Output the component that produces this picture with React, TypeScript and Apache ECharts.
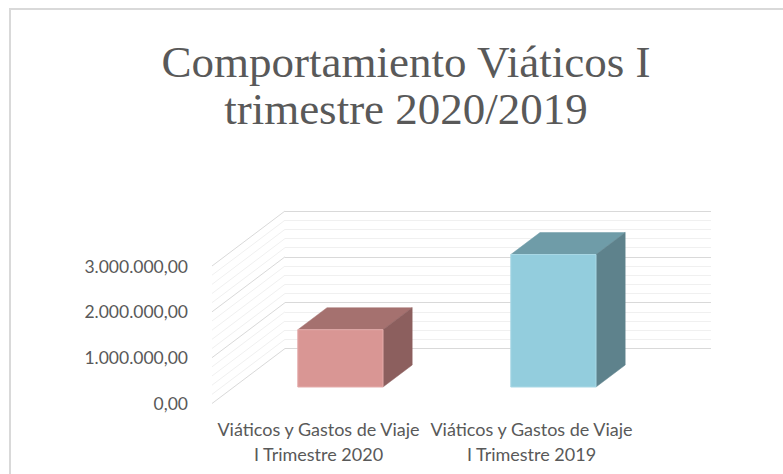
import React, { useEffect, useRef } from "react";
import * as echarts from "echarts";

const categories = [
  "Viáticos y Gastos de Viaje\nI Trimestre 2020",
  "Viáticos y Gastos de Viaje\nI Trimestre 2019",
];
const values = [1250000, 2890000];
const barColors = [
  { front: "#D99694", top: "#A5716F", side: "#8C5F5E", edge: "#E4ACAB" },
  { front: "#93CDDD", top: "#6F9CA8", side: "#5E828C", edge: "#A9D8E5" },
];
const titleText = "Comportamiento Viáticos I\ntrimestre 2020/2019";
const Y_MIN = 0;
const Y_MAX = 3000000;
const Y_INTERVAL = 1000000;
const MINOR_SPLITS = 5;

// side-wall gridline values follow the axis ticks
const wallValues: number[] = [];
for (let v = Y_MIN; v <= Y_MAX; v += Y_INTERVAL / MINOR_SPLITS) wallValues.push(v);

const DX = 73;
const DY = 55;
const BAR_D0 = 0.3;
const BAR_D1 = 0.7;
const BAR_W = 0.4;

const fmt = (v: number) => {
  const parts = v.toFixed(2).split(".");
  const intPart = parts[0].replace(/\B(?=(\d{3})+(?!\d))/g, ".");
  return intPart + "," + parts[1];
};

export default function App() {
  const ref = useRef<HTMLDivElement>(null);
  useEffect(() => {
    if (!ref.current) return;
    const chart = echarts.init(ref.current, null, { renderer: "svg" });
    const textColor = "#595959";
    chart.setOption({
      animation: false,
      backgroundColor: "#ffffff",
      title: {
        text: titleText,
        left: 401,
        top: 33,
        textAlign: "center",
        textStyle: {
          fontFamily: "Liberation Serif",
          fontWeight: "normal",
          fontSize: 45,
          lineHeight: 47,
          color: textColor,
        },
      },
      graphic: [
        {
          type: "rect",
          shape: { x: 10, y: 9, width: 900, height: 600 },
          style: { fill: "none", stroke: "#D9D9D9", lineWidth: 2 },
          silent: true,
          z: 0,
        },
      ],
      grid: [
        { left: 212, right: 145, top: 266, bottom: 70.5 },
        { left: 212 + DX, right: 145 - DX, top: 266 - DY, bottom: 70.5 + DY },
      ],
      xAxis: [
        {
          type: "category",
          gridIndex: 0,
          data: categories,
          axisLine: { show: false },
          axisTick: { show: false },
          axisLabel: {
            color: textColor,
            fontFamily: "Lato",
            fontSize: 18,
            lineHeight: 25,
            margin: 13,
            interval: 0,
          },
        },
        {
          type: "category",
          gridIndex: 1,
          data: categories,
          show: false,
        },
      ],
      yAxis: [
        {
          type: "value",
          gridIndex: 0,
          min: Y_MIN,
          max: Y_MAX,
          interval: Y_INTERVAL,
          axisLine: { show: false },
          axisTick: { show: false },
          splitLine: { show: false },
          axisLabel: {
            color: textColor,
            fontFamily: "Lato",
            fontSize: 17.5,
            margin: 24,
            formatter: (v: number) => fmt(v),
          },
        },
        {
          type: "value",
          gridIndex: 1,
          min: Y_MIN,
          max: Y_MAX,
          interval: Y_INTERVAL,
          axisLine: { show: false },
          axisTick: { show: false },
          axisLabel: { show: false },
          splitLine: { show: true, lineStyle: { color: "#D9D9D9", width: 1 } },
          minorTick: { show: false, splitNumber: MINOR_SPLITS },
          minorSplitLine: { show: true, lineStyle: { color: "#F0F0F0", width: 1 } },
        },
      ],
      series: [
        {
          type: "custom",
          xAxisIndex: 0,
          yAxisIndex: 0,
          silent: true,
          z: 1,
          data: wallValues.map((v) => [0, v]),
          renderItem: (params: any, api: any) => {
            const v = api.value(1);
            const c = api.coord([0, v]);
            const band = api.size([1, 0])[0];
            const x0 = c[0] - band / 2;
            const major = v % Y_INTERVAL === 0;
            return {
              type: "line",
              shape: { x1: x0, y1: c[1], x2: x0 + DX, y2: c[1] - DY },
              style: { stroke: major ? "#D9D9D9" : "#F0F0F0", lineWidth: 1 },
            };
          },
        },
        {
          type: "custom",
          xAxisIndex: 0,
          yAxisIndex: 0,
          z: 3,
          data: values.map((v, i) => [i, v]),
          renderItem: (params: any, api: any) => {
            const i = api.value(0);
            const v = api.value(1);
            const top = api.coord([i, v]);
            const bot = api.coord([i, 0]);
            const band = api.size([1, 0])[0];
            const w = band * BAR_W;
            const cx = top[0] + BAR_D0 * DX;
            const l = cx - w / 2;
            const r = cx + w / 2;
            const t = top[1] - BAR_D0 * DY;
            const b = bot[1] - BAR_D0 * DY;
            const ddx = (BAR_D1 - BAR_D0) * DX;
            const ddy = (BAR_D1 - BAR_D0) * DY;
            const col = barColors[i % barColors.length];
            return {
              type: "group",
              children: [
                {
                  type: "polygon",
                  shape: { points: [[l, t], [r, t], [r + ddx, t - ddy], [l + ddx, t - ddy]] },
                  style: { fill: col.top, stroke: col.top, lineWidth: 0.5 },
                },
                {
                  type: "polygon",
                  shape: { points: [[r, t], [r + ddx, t - ddy], [r + ddx, b - ddy], [r, b]] },
                  style: { fill: col.side, stroke: col.side, lineWidth: 0.5 },
                },
                {
                  type: "rect",
                  shape: { x: l, y: t, width: w, height: b - t },
                  style: { fill: col.front, stroke: col.edge, lineWidth: 1 },
                },
              ],
            };
          },
        },
      ],
    });
    return () => chart.dispose();
  }, []);
  return (
    <div
      ref={ref}
      style={{ position: "fixed", left: 0, top: 0, width: 783, height: 474 }}
    />
  );
}
